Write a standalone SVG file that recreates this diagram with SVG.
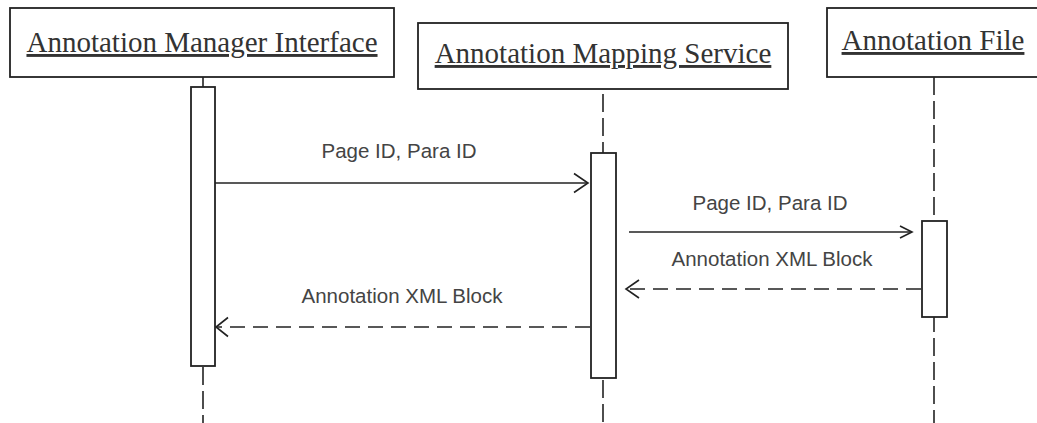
<svg xmlns="http://www.w3.org/2000/svg" width="1037" height="423" viewBox="0 0 1037 423">
  <style>
    .head { fill: #fff; stroke: #222; stroke-width: 1.8; }
    .head-label { font-family: "Liberation Serif", "Times New Roman", serif; font-size: 29px; fill: #333; text-anchor: middle; text-decoration: underline; }
    .bar { fill: #fff; stroke: #222; stroke-width: 1.8; }
    .life { stroke: #222; stroke-width: 1.6; stroke-dasharray: 18 6; fill: none; }
    .msg { stroke: #222; stroke-width: 1.6; fill: none; }
    .ret { stroke: #222; stroke-width: 1.6; fill: none; stroke-dasharray: 15 8; }
    .tip { stroke: #222; stroke-width: 1.6; fill: none; }
    .msg-label { font-family: "Liberation Sans", Arial, sans-serif; font-size: 20.5px; fill: #444; text-anchor: middle; }
  </style>

  <!-- lifelines -->
  <g id="lifelines">
    <line class="life" x1="203" y1="77" x2="203" y2="87" stroke-dasharray="4 20"/>
    <line class="life" x1="203" y1="366" x2="203" y2="423" stroke-dashoffset="-1"/>
    <line class="life" x1="603" y1="89" x2="603" y2="153" stroke-dashoffset="19"/>
    <line class="life" x1="603" y1="378" x2="603" y2="423" stroke-dashoffset="-2"/>
    <line class="life" x1="934" y1="77" x2="934" y2="221" stroke-dashoffset="0"/>
    <line class="life" x1="934" y1="317" x2="934" y2="423" stroke-dashoffset="3"/>
  </g>

  <!-- Annotation Manager Interface -->
  <g id="manager-interface">
    <rect class="head" x="10" y="8" width="384" height="69"/>
    <text class="head-label" x="202" y="52">Annotation Manager Interface</text>
    <rect class="bar" x="191" y="87" width="24" height="279"/>
  </g>

  <!-- Annotation Mapping Service -->
  <g id="mapping-service">
    <rect class="head" x="418" y="23" width="370" height="66"/>
    <text class="head-label" x="603" y="63">Annotation Mapping Service</text>
    <rect class="bar" x="591" y="153" width="25" height="225"/>
  </g>

  <!-- Annotation File -->
  <g id="annotation-file">
    <rect class="head" x="827" y="8" width="216" height="69"/>
    <text class="head-label" x="933" y="50">Annotation File</text>
    <rect class="bar" x="922" y="221" width="25" height="96"/>
  </g>

  <!-- messages -->
  <g id="connectors">
    <line class="msg" x1="215" y1="183" x2="588" y2="183"/>
    <polyline class="tip" points="574,173.5 588,183 574,192.5"/>
    <text class="msg-label" x="399" y="158">Page ID, Para ID</text>

    <line class="msg" x1="629" y1="232" x2="912" y2="232"/>
    <polyline class="tip" points="900,226 912,232 900,238"/>
    <text class="msg-label" x="770" y="210">Page ID, Para ID</text>

    <line class="ret" x1="921" y1="289" x2="626" y2="289"/>
    <polyline class="tip" points="639,280 626,289 639,298"/>
    <text class="msg-label" x="772" y="266">Annotation XML Block</text>

    <line class="ret" x1="590" y1="327" x2="216" y2="327"/>
    <polyline class="tip" points="228,317.5 216,327 228,336.5"/>
    <text class="msg-label" x="402" y="303">Annotation XML Block</text>
  </g>
</svg>
